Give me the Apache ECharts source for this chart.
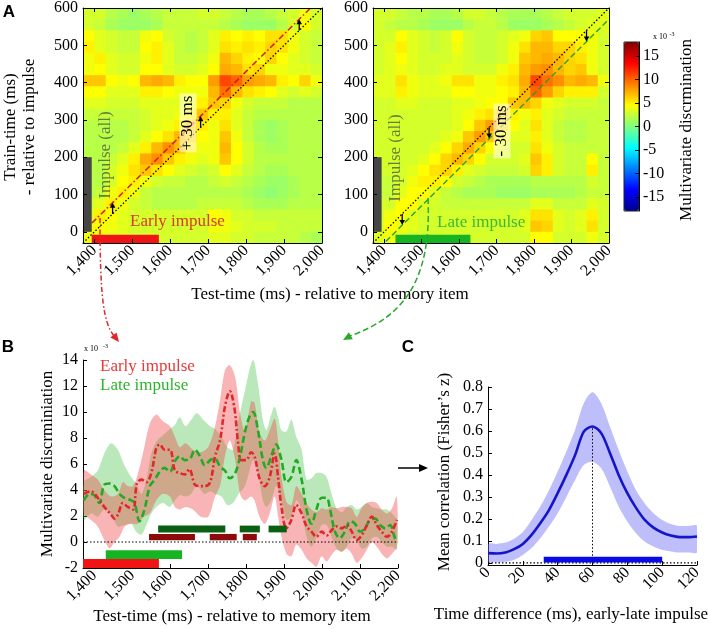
<!DOCTYPE html>
<html>
<head>
<meta charset="utf-8">
<script src="https://cdn.jsdelivr.net/npm/echarts@6/dist/echarts.min.js"></script>
<style>
  html, body { margin: 0; background: #fff; }
  #chart { width: 708px; height: 629px; }
</style>
</head>
<body>
<div id="chart"></div>
<script>
const SERIF = 'Liberation Serif';

// ---- panel A: temporal generalisation matrices (x 10^-3), 30 ms cells ----
const heatX = [1385, 1415, 1445, 1475, 1505, 1535, 1565, 1595, 1625, 1655, 1685, 1715, 1745, 1775, 1805, 1835, 1865, 1895, 1925, 1955, 1985];
const heatY = [585, 555, 525, 495, 465, 435, 405, 375, 345, 315, 285, 255, 225, 195, 165, 135, 105, 75, 45, 15, -15];
const cellSize = 30;

const earlyMap = [
  [3,3,2,1.5,1,1.5,2,2.5,2.5,2.5,3,3,2.5,2,1.5,1.5,2,2.5,3,4,3],
  [3,2.5,1.5,1,1,1,1.5,2.5,2.5,2.5,2.5,2.5,2,1.5,1,1,1,2,3,4.5,3],
  [4.5,3.5,3,2.5,2.5,4,4.5,3,2.5,2,2.5,3.5,5,4.5,5,4.5,5.5,5.5,4,3,2.5],
  [5,3.5,3,2.5,2.5,4.5,5,3.5,2.5,2,2.5,3.5,5.5,5,5.5,5,6,5.5,4,3,2.5],
  [4,5,3.5,3,3,4,5,3.5,2.5,2.5,3,4,7,6,5,4.5,6,4.5,3.5,3,2.5],
  [4,4.5,3.5,3,3,4.5,4.5,3.5,3,3,3.5,4.5,7.5,7,5.5,6,4,4,3.5,3.5,3],
  [6.5,6.5,4.5,4,4.5,7,7.5,7,5,4.5,4.5,8,11,10,8,7.5,7,5,4.5,6,4],
  [4.5,4.5,3.5,3.5,3.5,5,5,4.5,4,4,4,7,9.5,7,5.5,5,4.5,3.5,3,3.5,3],
  [3.5,3.5,3,3,3,3.5,3.5,3.5,3.5,4,5,6.5,6,4,3,2.5,2.5,2.5,2,2,2],
  [2.5,2.5,2.5,2.5,2.5,3,3.5,3.5,4,5,6.5,5,5,3.5,2.5,2,2,2,2,2,2],
  [2,2,2,2,2.5,3,3.5,4,5,6.5,5,4,5.5,3.5,2.5,1.5,1,1.5,2,2,2],
  [2,2,2,2,2.5,3.5,4.5,5.5,7,6,4.5,4,6.5,4,2.5,1.5,1,1.5,2,2,2],
  [2,2,2,2.5,3.5,5,7,8.5,7,5,4,4,7,4.5,3,2,1.5,1.5,2,2,2],
  [2,2,2.5,3.5,5,7.5,8.5,6.5,5,4,3.5,4,6.5,4.5,3,2,2,2,2,2,2],
  [2,2,3,4,5.5,6.5,5.5,4.5,3.5,3,2.5,3,4.5,3.5,2.5,2,1.5,1.5,2,2,2],
  [2,2,3,4.5,5,4,3,2.5,2.5,2,2,2.5,3,2.5,2,1.5,1,1,1.5,2,2],
  [2,2.5,4,5,4,2.5,2,2,2,2,2,2,2,2,1.5,1,0.5,1,1.5,2,2],
  [3,3.5,5,4,3,2.5,2,2,2,2,2.5,2.5,2.5,2.5,2,1.5,1.5,1.5,2,2,2],
  [3.5,5,4.5,3.5,3,3,3,3,3,3,3,4.5,4,3,3,2.5,2.5,2.5,2.5,2.5,2.5],
  [4.5,4.5,4,3.5,3,3,3,3,3,3,3,4,4,3.5,3,3,3,2.5,2.5,2.5,2.5],
  [4,4,3.5,3.5,3,3,3,3,3,3,3,3.5,3.5,3,3,2.5,2.5,2.5,2.5,2,1.5]
];

const lateMap = [
  [3,3,2.5,2,2,1.5,1.5,2,3,3,2.5,2,1.5,1.5,1.5,2,2.5,3,3,3,3.5],
  [3,2.5,2,2,1.5,1,1,1,2,2.5,2.5,2,1,1,1,1.5,2,2.5,3,3.5,3.5],
  [3,3,4.5,3.5,3,2.5,3,4.5,3,2.5,2.5,3,3.5,4,6,6.5,4.5,4.5,4.5,4,3],
  [3,3.5,5,3.5,3,2.5,3,4,3,2.5,2.5,3,4,5.5,7,7,6,6,5,4,3],
  [3,3.5,4.5,3.5,3,3,3,3.5,3,2.5,2.5,3,4,6.5,7,7.5,7,6,5.5,4,3],
  [3,3.5,4,3.5,3,3,3.5,3.5,3,3,3,4,5,7,8,8.5,7,6,6.5,4,3],
  [3.5,3.5,5.5,4,3.5,3.5,4,5.5,5.5,4,4,5,5.5,7.5,11,9.5,8.5,7,7.5,7,4],
  [3.5,3.5,5,4,3.5,3.5,3.5,4.5,4.5,4,4,4.5,5,7,10,8,6,5,5,5,3],
  [3,3,3.5,3.5,3,3,3,3.5,3.5,4,4.5,4.5,6.5,7,6,4,3.5,3,3,3,2.5],
  [3,3,3,3,3,3,3,3.5,4,5,5.5,6.5,5,4,5,3.5,3,2.5,2.5,2.5,2.5],
  [3,3,3,3,3,3,3,3.5,4.5,6.5,8,6,4.5,3.5,5.5,3.5,2.5,2,2,2.5,2.5],
  [3,3,3,3,3,3,3.5,4,6.5,8,6.5,4.5,3.5,3.5,5,3.5,2.5,2,2,2.5,2.5],
  [3,3,3,3,3,3.5,4.5,6,7.5,6,4.5,3.5,3,3,5.5,4,3,2.5,2.5,2.5,2.5],
  [3,3,3,3,3.5,4.5,6,7,6,4.5,3,3,3,3.5,6.5,5,3,2.5,2.5,4.5,2.5],
  [3,3,3,3.5,4.5,5.5,6,5,3.5,3,2.5,2.5,2.5,3,6,5,3,2.5,2.5,5,2.5],
  [2.5,2.5,3,4,5,5,4.5,3,2.5,2,1.5,1.5,1.5,1.5,2,2,2,2,2,3,2.5],
  [2.5,2.5,3.5,4.5,4.5,3.5,2.5,2,1.5,1.5,1.5,1,1,1,1.5,1.5,1.5,1.5,2,2.5,2.5],
  [3,3,4.5,4.5,3.5,3,2.5,2.5,2.5,2.5,2.5,2.5,2.5,2.5,3.5,3.5,2.5,2.5,2.5,3.5,3],
  [3,4,4.5,3.5,3,3,3,3,3,3,3,3,3,3.5,5.5,5.5,3.5,3,3.5,5,3],
  [3.5,4.5,4,3.5,3,3,3,3,3,3,3,3,3,3.5,6.5,6,3.5,3,3.5,5.5,3],
  [3.5,4,3.5,3,3,3,3,3,3,3,3,3,3,3,4.5,4.5,3,3,3,4,3]
];

// diagonals: test-time minus 1400 (+/- 30 ms shift)
const diagLag = 1400;
const earlyShift = 30;
const lateShift = -30;
const shiftArrowTimes = [1448, 1680, 1940];

// bars [x0, x1, y0, y1]
const impulseBar = [[1370, 1393, 0, 200]];
const earlyWindowA = [[1393, 1570, -30, -8]];
const lateWindowA = [[1430, 1630, -30, -8]];

const heatXTicks = [1400, 1500, 1600, 1700, 1800, 1900, 2000];
const heatYTicks = [0, 100, 200, 300, 400, 500, 600];
const colorTicks = [-15, -10, -5, 0, 5, 10, 15];

// ---- panel B: decoding over time (x 10^-3) ----
const earlyMean = [[1372,3.7],[1391,3.9],[1409,3.4],[1426,2.7],[1444,2.1],[1453,1.8],[1462,2.1],[1475,3.0],[1488,2.7],[1502,2.5],[1512,4.5],[1524,4.8],[1537,4.6],[1550,5.3],[1563,7.2],[1572,7.5],[1585,7.1],[1599,7.1],[1612,5.5],[1625,5.3],[1638,5.2],[1650,5.6],[1665,4.4],[1678,4.3],[1691,4.3],[1705,4.6],[1718,6.6],[1731,7.8],[1744,10.4],[1757,11.6],[1769,10.3],[1778,7.8],[1787,6.3],[1800,6.3],[1813,6.9],[1822,6.6],[1835,4.9],[1849,4.3],[1862,5.0],[1875,6.8],[1884,5.0],[1893,2.7],[1906,1.05],[1919,1.7],[1932,2.85],[1946,2.2],[1959,1.2],[1972,0.8],[1985,0.4],[1999,0.8],[2012,0.5],[2025,0.9],[2038,1.2],[2052,1.05],[2065,1.3],[2078,0.8],[2091,0.15],[2104,0.5],[2118,1.3],[2131,1.95],[2144,1.3],[2157,0.8],[2171,0.4],[2184,0.8],[2197,1.7]];
const earlyUpper = [[1372,5.5],[1391,5.2],[1409,4.8],[1426,4.0],[1444,3.5],[1462,3.7],[1475,4.6],[1488,4.3],[1502,4.3],[1515,5.3],[1530,7.1],[1546,9.1],[1563,9.8],[1580,9.3],[1599,8.9],[1612,8.1],[1625,7.3],[1640,7.6],[1660,7.1],[1680,6.9],[1700,7.3],[1718,8.9],[1731,10.9],[1744,13.2],[1757,13.6],[1771,12.7],[1784,9.9],[1797,8.5],[1813,10.8],[1822,10.7],[1835,8.4],[1849,7.8],[1862,8.6],[1875,9.5],[1884,7.8],[1893,5.0],[1906,3.1],[1919,2.85],[1932,4.3],[1946,3.7],[1959,3.0],[1972,2.5],[1985,2.3],[1999,2.6],[2012,2.5],[2025,2.7],[2038,2.6],[2052,2.7],[2065,2.7],[2078,2.6],[2091,1.95],[2104,2.6],[2118,3.0],[2131,3.1],[2144,3.0],[2157,2.5],[2171,2.2],[2184,2.6],[2197,3.5]];
const earlyLower = [[1372,2.2],[1391,1.7],[1409,1.2],[1426,0.15],[1440,-0.5],[1453,0],[1466,0.4],[1480,1.2],[1497,1.4],[1515,1.4],[1530,1.95],[1546,2.2],[1563,3.2],[1580,3.7],[1599,3.5],[1612,2.7],[1625,2.5],[1640,2.7],[1660,2.5],[1680,1.95],[1700,1.95],[1718,3.5],[1731,4.3],[1744,6.6],[1757,7.8],[1771,6.3],[1784,3.7],[1797,3.2],[1813,3.5],[1822,3.2],[1835,1.95],[1849,1.4],[1862,2.2],[1875,3.5],[1884,1.95],[1893,0.4],[1906,-0.9],[1919,-1.1],[1932,-0.2],[1946,-0.6],[1959,-1.25],[1972,-1.6],[1985,-1.9],[1999,-1.1],[2012,-1.5],[2025,-1.0],[2038,-0.6],[2052,-0.75],[2065,-0.5],[2078,-0.9],[2091,-1.6],[2104,-1.25],[2118,-0.6],[2131,0],[2144,-0.35],[2157,-0.9],[2171,-1.25],[2184,-0.9],[2197,-0.35]];

const lateMean = [[1372,3.2],[1387,3.7],[1400,3.6],[1413,3.0],[1426,4.4],[1440,4.5],[1453,4.3],[1466,3.7],[1479,3.4],[1497,3.2],[1506,3.0],[1519,1.6],[1532,2.5],[1546,4.3],[1559,4.8],[1572,5.4],[1585,5.7],[1599,5.4],[1612,6.2],[1625,6.6],[1638,6.3],[1652,6.4],[1665,7.1],[1678,6.6],[1691,5.9],[1705,6.3],[1718,6.4],[1731,5.8],[1744,5.5],[1757,4.9],[1771,5.3],[1784,6.6],[1797,8.5],[1808,9.6],[1818,10.0],[1831,8.6],[1844,6.3],[1853,5.7],[1866,6.6],[1879,7.5],[1893,6.3],[1906,4.6],[1919,5.0],[1932,6.3],[1946,4.8],[1959,2.5],[1972,1.4],[1985,2.5],[1999,3.4],[2012,3.4],[2021,2.5],[2034,0.8],[2047,0.3],[2060,0.8],[2074,1.6],[2087,1.4],[2100,0.8],[2113,1.05],[2126,1.7],[2140,1.8],[2153,1.3],[2166,1.05],[2179,1.3],[2192,0.3],[2200,0]];
const lateUpper = [[1372,4.6],[1391,5.0],[1409,5.5],[1426,6.8],[1444,7.6],[1462,7.1],[1479,5.9],[1497,5.0],[1510,4.5],[1524,3.7],[1537,4.8],[1550,6.8],[1563,7.7],[1580,8.2],[1599,8.7],[1612,9.0],[1625,9.6],[1640,8.9],[1655,9.4],[1670,9.9],[1690,9.3],[1705,8.9],[1718,8.7],[1735,8.1],[1750,7.3],[1765,7.1],[1780,9.4],[1797,11.7],[1818,14.0],[1831,12.2],[1844,9.4],[1853,8.6],[1866,9.8],[1875,10.4],[1884,9.6],[1893,8.6],[1906,8.5],[1919,9.4],[1932,8.1],[1946,7.1],[1959,4.8],[1972,4.9],[1985,5.3],[1999,5.3],[2012,5.0],[2025,3.7],[2038,2.6],[2052,2.3],[2065,2.7],[2078,2.85],[2091,2.5],[2104,2.7],[2118,3.0],[2131,2.7],[2144,2.6],[2157,2.5],[2171,2.5],[2184,2.2],[2197,1.7]];
const lateLower = [[1372,1.7],[1391,2.2],[1409,1.95],[1426,2.5],[1444,2.1],[1462,1.2],[1479,1.3],[1497,1.4],[1510,0.8],[1524,0.55],[1537,1.3],[1550,2.2],[1563,2.7],[1580,3.0],[1599,2.7],[1612,3.2],[1625,3.6],[1640,3.5],[1655,3.7],[1670,4.3],[1690,3.7],[1705,3.9],[1718,3.7],[1735,3.5],[1750,2.85],[1765,3.0],[1780,3.7],[1797,4.3],[1818,6.3],[1831,5.3],[1844,3.2],[1853,2.7],[1866,3.2],[1879,4.3],[1893,3.2],[1906,1.7],[1919,1.95],[1932,3.2],[1946,2.5],[1959,0.4],[1972,-0.35],[1985,0.3],[1999,1.3],[2012,1.3],[2025,0.4],[2038,-0.5],[2052,-0.75],[2065,-0.35],[2078,0.3],[2091,0.15],[2104,-0.5],[2118,-0.35],[2131,0.3],[2144,0.4],[2157,0],[2171,-0.35],[2184,-0.35],[2197,-0.6]];

const earlyClusters = [[1544, 1665, 0.13, 0.62], [1704, 1775, 0.13, 0.62], [1791, 1828, 0.13, 0.62]];
const lateClusters = [[1568, 1745, 0.74, 1.26], [1783, 1836, 0.74, 1.26], [1859, 1907, 0.74, 1.26]];
const earlyWindowB = [[1370, 1570, -2, -1.3]];
const lateWindowB = [[1430, 1631, -1.3, -0.64]];
const bXTicks = [1400, 1500, 1600, 1700, 1800, 1900, 2000, 2100, 2200];

// ---- panel C: early-late cross correlation ----
const lagMs = [0,5,10,15,20,25,30,35,40,45,50,55,60,65,70,75,80,85,90,95,100,105,110,115,120];
const corrMean = [0.044,0.042,0.047,0.062,0.086,0.127,0.18,0.24,0.317,0.40,0.49,0.597,0.62,0.59,0.50,0.40,0.317,0.25,0.195,0.16,0.138,0.124,0.117,0.117,0.12];
const corrUpper = [0.085,0.086,0.092,0.11,0.14,0.195,0.256,0.33,0.415,0.506,0.605,0.726,0.776,0.726,0.62,0.514,0.415,0.33,0.27,0.226,0.195,0.177,0.168,0.168,0.168];
const corrLower = [0.006,0.002,0.005,0.014,0.036,0.067,0.112,0.165,0.226,0.30,0.377,0.445,0.46,0.43,0.347,0.256,0.188,0.135,0.097,0.074,0.059,0.052,0.047,0.047,0.048];
const peakLag = 60;
const corrCluster = [[32, 100, 0.001, 0.027]];
const cYTicks = [0, 0.1, 0.2, 0.3, 0.4, 0.5, 0.6, 0.7, 0.8];

// ---------------------------------------------------------------
const jet = ['#00008f', '#0000ff', '#0080ff', '#00ffff', '#80ff80', '#ffff00', '#ff8000', '#ff0000', '#800000'];
const comma = v => String(v).replace(/\B(?=(\d{3})+(?!\d))/g, ',');
const zip = (xs, ys) => xs.map((x, i) => [x, ys[i]]);

function matrixData(m) {
  const out = [];
  m.forEach((row, r) => row.forEach((v, c) => out.push([heatX[c], heatY[r], v])));
  return out;
}

function axis(grid, min, max, o) {
  o = o || {};
  return {
    type: 'value', gridIndex: grid, min: min, max: max, z: o.z || 0,
    position: o.position, show: o.show !== false,
    axisLine: { show: true, onZero: false, lineStyle: { color: '#000', width: 1 } },
    axisTick: { show: o.ticks !== false, inside: true, length: 4, customValues: o.ticksAt, lineStyle: { color: '#000' } },
    axisLabel: {
      show: o.labels !== false, customValues: o.ticksAt, rotate: o.rotate || 0, margin: o.margin || 5,
      formatter: o.formatter, color: '#000', fontFamily: SERIF, fontSize: 16
    },
    splitLine: { show: false }
  };
}

function renderCell(params, api) {
  const h = cellSize / 2;
  const a = api.coord([api.value(0) - h, api.value(1) + h]);
  const b = api.coord([api.value(0) + h, api.value(1) - h]);
  return { type: 'rect', shape: { x: a[0], y: a[1], width: b[0] - a[0] + 0.6, height: b[1] - a[1] + 0.6 },
    style: { fill: api.visual('color') } };
}

function renderBar(params, api) {
  const a = api.coord([api.value(0), api.value(3)]);
  const b = api.coord([api.value(1), api.value(2)]);
  return { type: 'rect', shape: { x: a[0], y: a[1], width: b[0] - a[0], height: b[1] - a[1] },
    style: { fill: api.visual('color') } };
}

function barSeries(data, color, xi, z) {
  return { type: 'custom', xAxisIndex: xi, yAxisIndex: xi, data: data, renderItem: renderBar,
    encode: { x: [0, 1], y: [2, 3] }, itemStyle: { color: color }, z: z || 4, silent: true, clip: true };
}

function bandSeries(upper, lower, color, xi) {
  return { type: 'custom', xAxisIndex: xi, yAxisIndex: xi, data: [[upper[0][0], upper[0][1]]], silent: true, clip: true, z: 1,
    renderItem: (params, api) => {
      const pts = upper.map(d => api.coord(d)).concat(lower.slice().reverse().map(d => api.coord(d)));
      return { type: 'polygon', shape: { points: pts, smooth: 0.3 }, style: { fill: color } };
    } };
}

function lineSeries(data, color, width, dash, xi, smooth, z) {
  return { type: 'line', xAxisIndex: xi, yAxisIndex: xi, data: data, showSymbol: false, smooth: smooth || 0,
    silent: true, clip: true, z: z || 3, lineStyle: { color: color, width: width, type: dash } };
}

function arrowSeries(shift, xi) {
  return { type: 'custom', xAxisIndex: xi, yAxisIndex: xi, silent: true, z: 6,
    data: shiftArrowTimes.map(t => [t, t - diagLag, t - diagLag + shift]),
    renderItem: (params, api) => {
      const a = api.coord([api.value(0), api.value(1)]);
      const b = api.coord([api.value(0), api.value(2)]);
      const d = b[1] < a[1] ? 1 : -1;
      return { type: 'group', children: [
        { type: 'line', shape: { x1: a[0], y1: a[1], x2: b[0], y2: b[1] + d * 3 }, style: { stroke: '#000', lineWidth: 1.3 } },
        { type: 'polygon', shape: { points: [[b[0], b[1]], [b[0] - 2.8, b[1] + d * 5], [b[0] + 2.8, b[1] + d * 5]] }, style: { fill: '#000' } }
      ] };
    } };
}

// annotations
function txt(x, y, text, o) {
  o = o || {};
  return { type: 'text', x: x, y: y, rotation: o.rot || 0, z: 50,
    style: { text: text, fill: o.color || '#000', font: (o.weight || 'normal') + ' ' + (o.size || 16) + 'px "' + (o.family || SERIF) + '"',
      align: o.align || 'center', verticalAlign: 'middle', backgroundColor: o.bg, padding: o.bg ? [0, 2] : 0 } };
}
function head(tx, ty, ang, color) {
  const L = 9, W = 4;
  const bx = tx - L * Math.cos(ang), by = ty - L * Math.sin(ang);
  const px = -Math.sin(ang) * W, py = Math.cos(ang) * W;
  return { type: 'polygon', z: 50, shape: { points: [[tx, ty], [bx + px, by + py], [bx - px, by - py]] }, style: { fill: color } };
}

const graphics = [
  txt(9, 12, 'A', { family: 'Liberation Sans', weight: 'bold', size: 17 }),
  txt(8, 347, 'B', { family: 'Liberation Sans', weight: 'bold', size: 17 }),
  txt(408, 347, 'C', { family: 'Liberation Sans', weight: 'bold', size: 17 }),
  txt(11, 127, 'Train-time (ms)', { rot: Math.PI / 2, size: 17 }),
  txt(30, 127, '- relative to impulse', { rot: Math.PI / 2, size: 17 }),
  txt(330, 295, 'Test-time (ms) - relative to memory item', { size: 17 }),
  txt(687, 130, 'Multivariate discrmination', { rot: Math.PI / 2, size: 17 }),
  txt(660, 37, 'x 10', { size: 8 }),
  txt(672, 34, '-3', { size: 6 }),
  txt(106, 155, 'Impulse (all)', { rot: Math.PI / 2, size: 17, color: 'rgba(70,80,60,0.75)' }),
  txt(188, 123, '+ 30 ms', { rot: Math.PI / 2, size: 17, bg: 'rgba(255,255,225,0.6)' }),
  txt(130, 222, 'Early impulse', { align: 'left', size: 17, color: '#d83a2a' }),
  txt(396, 158, 'Impulse (all)', { rot: Math.PI / 2, size: 17, color: 'rgba(70,80,60,0.75)' }),
  txt(502, 131, '- 30 ms', { rot: Math.PI / 2, size: 17, bg: 'rgba(255,255,225,0.6)' }),
  txt(437, 223, 'Late impulse', { align: 'left', size: 17, color: '#3cb83c' }),
  txt(84, 349, 'x 10', { align: 'left', size: 8 }),
  txt(103, 346, '-3', { align: 'left', size: 6 }),
  txt(48, 464, 'Multivariate discrminiation', { rot: Math.PI / 2, size: 17 }),
  txt(100, 367, 'Early impulse', { align: 'left', size: 17, color: '#e8393b' }),
  txt(100, 386, 'Late impulse', { align: 'left', size: 17, color: '#2db52d' }),
  txt(232, 617, 'Test-time (ms) - relative to memory item', { size: 17 }),
  txt(445, 472, 'Mean correlation (Fisher\u2019s z)', { rot: Math.PI / 2, size: 17 }),
  txt(571, 615, 'Time difference (ms), early-late impulse', { size: 17 }),
  // connectors
  { type: 'bezierCurve', z: 50, shape: { x1: 100, y1: 218, cpx1: 100, cpy1: 295, cpx2: 103, cpy2: 322, x2: 114, y2: 336 },
    style: { stroke: '#e0262b', lineWidth: 1.5, lineDash: [5, 2.5, 1.5, 2.5], fill: null } },
  head(119, 342, Math.atan2(14, 11), '#e0262b'),
  { type: 'bezierCurve', z: 50, shape: { x1: 428, y1: 198, cpx1: 432, cpy1: 285, cpx2: 400, cpy2: 318, x2: 350, y2: 336 },
    style: { stroke: '#2aa82a', lineWidth: 1.5, lineDash: [6, 3], fill: null } },
  head(343, 340, Math.atan2(10, -18), '#2aa82a'),
  { type: 'line', z: 50, shape: { x1: 398, y1: 468, x2: 421, y2: 468 }, style: { stroke: '#000', lineWidth: 1.5 } },
  head(428, 468, 0, '#000')
];

const option = {
  animation: false,
  backgroundColor: '#fff',
  grid: [
    { left: 83, top: 8, width: 239, height: 235 },
    { left: 373, top: 8, width: 236, height: 235 },
    { left: 624, top: 42, width: 15, height: 169, show: true, borderColor: '#222', borderWidth: 1, z: 10 },
    { left: 83, top: 360, width: 315, height: 208 },
    { left: 488, top: 387, width: 209, height: 178 }
  ],
  visualMap: {
    type: 'continuous', min: -18, max: 18, dimension: 2, seriesIndex: [0, 1],
    inRange: { color: jet }, calculable: false, hoverLink: false,
    left: 624, top: 42, itemWidth: 15, itemHeight: 169, padding: 0, text: null, showLabel: false
  },
  xAxis: [
    axis(0, 1370, 2000, { ticksAt: heatXTicks, rotate: 45, formatter: comma, z: 10 }),
    axis(1, 1370, 2000, { ticksAt: heatXTicks, rotate: 45, formatter: comma, z: 10 }),
    axis(2, 0, 1, { show: false }),
    axis(3, 1370, 2200, { ticksAt: bXTicks, rotate: 45, formatter: comma }),
    axis(4, 0, 120, { ticksAt: [0, 20, 40, 60, 80, 100, 120], rotate: 45 }),
    axis(0, 1370, 2000, { ticksAt: heatXTicks, position: 'top', labels: false, z: 10 }),
    axis(1, 1370, 2000, { ticksAt: heatXTicks, position: 'top', labels: false, z: 10 })
  ],
  yAxis: [
    axis(0, -30, 600, { ticksAt: heatYTicks, z: 10 }),
    axis(1, -30, 600, { ticksAt: heatYTicks, z: 10 }),
    axis(2, -18, 18, { ticksAt: colorTicks, position: 'right', margin: 4, z: 11 }),
    axis(3, -2, 14, { ticksAt: [-2, 0, 2, 4, 6, 8, 10, 12, 14] }),
    axis(4, -0.01, 0.8, { ticksAt: cYTicks }),
    axis(0, -30, 600, { ticksAt: heatYTicks, position: 'right', labels: false, z: 10 }),
    axis(1, -30, 600, { ticksAt: heatYTicks, position: 'right', labels: false, z: 10 })
  ],
  series: [
    { type: 'custom', xAxisIndex: 0, yAxisIndex: 0, data: matrixData(earlyMap), renderItem: renderCell,
      encode: { x: 0, y: 1 }, clip: true, silent: true, z: 1 },
    { type: 'custom', xAxisIndex: 1, yAxisIndex: 1, data: matrixData(lateMap), renderItem: renderCell,
      encode: { x: 0, y: 1 }, clip: true, silent: true, z: 1 },
    // panel A overlays
    lineSeries([[1370, 1370 - diagLag], [2000, 2000 - diagLag]], '#000', 1.3, [1.5, 2], 0),
    lineSeries([[1370, 1370 - diagLag + earlyShift], [2000, 2000 - diagLag + earlyShift]], '#d42020', 1.6, [6, 2.5, 1.5, 2.5], 0),
    lineSeries([[1370, 1370 - diagLag], [2000, 2000 - diagLag]], '#000', 1.3, [1.5, 2], 1),
    lineSeries([[1370, 1370 - diagLag + lateShift], [2000, 2000 - diagLag + lateShift]], '#2aa02a', 1.4, [6, 3], 1),
    arrowSeries(earlyShift, 0),
    arrowSeries(lateShift, 1),
    barSeries(impulseBar, '#464646', 0),
    barSeries(impulseBar, '#464646', 1),
    barSeries(earlyWindowA, '#f01414', 0),
    barSeries(lateWindowA, '#16b423', 1),
    // colorbar axis holder
    { type: 'line', xAxisIndex: 2, yAxisIndex: 2, data: [] },
    // panel B
    bandSeries(lateUpper, lateLower, 'rgba(60,190,60,0.35)', 3),
    bandSeries(earlyUpper, earlyLower, 'rgba(240,60,60,0.38)', 3),
    lineSeries([[1370, 0], [2200, 0]], '#000', 1.2, [1.5, 2], 3, 0, 2),
    lineSeries(lateMean, '#22aa22', 2.6, [7, 3.5], 3, 0.35),
    lineSeries(earlyMean, '#e4262b', 2.6, [6, 2.5, 2, 2.5], 3, 0.35),
    barSeries(earlyClusters, '#8e0a0a', 3),
    barSeries(lateClusters, '#0b5f12', 3),
    barSeries(earlyWindowB, '#f01414', 3),
    barSeries(lateWindowB, '#16b423', 3),
    // panel C
    bandSeries(zip(lagMs, corrUpper), zip(lagMs, corrLower), 'rgba(110,110,245,0.45)', 4),
    lineSeries([[0, 0], [120, 0]], '#000', 1.2, [1.5, 2], 4, 0, 2),
    lineSeries([[peakLag, 0], [peakLag, corrMean[lagMs.indexOf(peakLag)]]], '#000', 1, [1.5, 2], 4, 0, 2),
    lineSeries(zip(lagMs, corrMean), '#1414c8', 2.6, 'solid', 4, 0.3),
    barSeries(corrCluster, '#0a0ae6', 4)
  ],
  graphic: graphics
};

const chart = echarts.init(document.getElementById('chart'), null, { renderer: 'canvas' });
chart.setOption(option);
</script>
</body>
</html>
